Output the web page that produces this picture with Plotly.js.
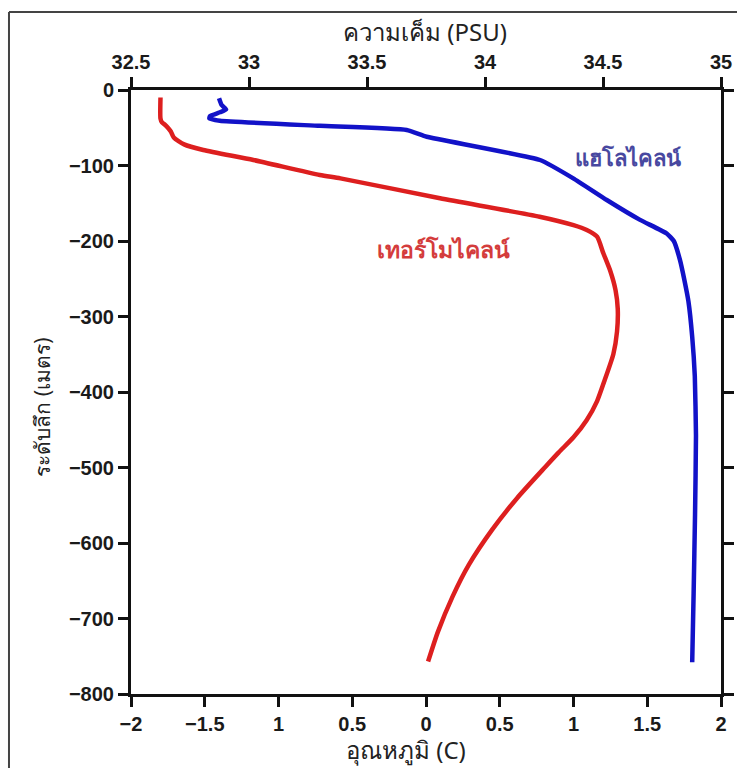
<!DOCTYPE html>
<html>
<head>
<meta charset="utf-8">
<script src="https://cdn.plot.ly/plotly-3.0.1.min.js"></script>
<style>html,body{margin:0;padding:0;background:#fff;}#chart{width:737px;height:768px;}</style>
</head>
<body>
<div id="chart"></div>
<script>
// Temperature profile (thermocline), °C vs depth (m)
const tempValues = [-1.80,-1.80,-1.79,-1.77,-1.75,-1.73,-1.71,-1.64,-1.51,-1.17,-0.72,-0.58,0.095,0.77,1.00,1.09,1.16,1.20,1.25,1.285,1.30,1.295,1.27,1.21,1.16,1.09,1.00,0.90,0.81,0.62,0.45,0.29,0.18,0.08,0.014];
const tempDepth  = [-10,-38,-43,-46,-50,-55,-63,-72,-79.5,-92.7,-112.6,-117,-143.4,-167.8,-179,-185.4,-194.3,-215,-240,-265,-290,-320,-350,-385,-412,-437,-460,-480,-499,-540,-582,-629,-671,-718,-757];
// Salinity profile (halocline), PSU vs depth (m)
const salValues = [32.873,32.884,32.903,32.877,32.835,32.832,32.877,33.30,33.668,33.753,34.233,34.374,34.516,34.657,34.77,34.80,34.826,34.845,34.862,34.878,34.889,34.894,34.890,34.884,34.878];
const salDepth  = [-11,-20,-25.6,-29.5,-34.4,-37.5,-40.7,-47.5,-53,-61.9,-92.7,-117,-145.7,-172,-190,-200,-225,-252,-280,-327,-379,-458,-562,-667,-758];

const tempTickVals = [-2,-1.5,-1,-0.5,0,0.5,1,1.5,2];
const tempTickText = ['\u22122','\u22121.5','1','0.5','0','0.5','1','1.5','2'];
const salTickVals = [32.5,33,33.5,34,34.5,35];
const salTickText = ['32.5','33','33.5','34','34.5','35'];
const depthTickVals = [0,-100,-200,-300,-400,-500,-600,-700,-800];

const tickFont = {family:'Liberation Sans, Arial, sans-serif', size:20, color:'#1a1a1a', weight:'bold'};
const titleFont = {family:'Noto Sans, DejaVu Sans, sans-serif', size:24, color:'#222'};
const yTitleFont = {family:'Noto Sans, DejaVu Sans, sans-serif', size:21, color:'#222'};

const data = [
  {x: tempValues, y: tempDepth, xaxis:'x', yaxis:'y', mode:'lines', type:'scatter',
   line:{color:'#dd1f1f', width:4.5, shape:'spline', smoothing:0.6}, hoverinfo:'skip'},
  {x: salValues, y: salDepth, xaxis:'x2', yaxis:'y', mode:'lines', type:'scatter',
   line:{color:'#1212c8', width:4.5, shape:'spline', smoothing:0.4}, hoverinfo:'skip'}
];

const axisCommon = {showline:true, linecolor:'#111', linewidth:3, ticks:'outside', ticklen:10, tickwidth:3, tickcolor:'#111', showgrid:false, zeroline:false, tickfont:tickFont, fixedrange:true};

const layout = {
  width:737, height:768,
  margin:{l:131, r:16, t:90, b:74},
  paper_bgcolor:'#fff', plot_bgcolor:'#fff',
  showlegend:false,
  xaxis: Object.assign({}, axisCommon, {range:[-2,2], tickmode:'array', tickvals:tempTickVals, ticktext:tempTickText, side:'bottom'}),
  xaxis2: Object.assign({}, axisCommon, {range:[32.5,35], tickmode:'array', tickvals:salTickVals, ticktext:salTickText, overlaying:'x', side:'top', anchor:'y'}),
  yaxis: Object.assign({}, axisCommon, {range:[-800,0], tickmode:'array', tickvals:depthTickVals, mirror:'ticks'}),
  annotations:[
    {text:'ความเค็ม (PSU)', xref:'paper', yref:'paper', x:0.498, y:1.097, showarrow:false, font:titleFont, xanchor:'center', yanchor:'middle'},
    {text:'อุณหภูมิ (C)', xref:'paper', yref:'paper', x:0.466, y:-0.092, showarrow:false, font:titleFont, xanchor:'center', yanchor:'middle'},
    {text:'ระดับลึก (เมตร)', xref:'paper', yref:'paper', x:-0.150, y:0.475, showarrow:false, textangle:-90, font:yTitleFont, xanchor:'center', yanchor:'middle'},
    {text:'แฮโลไคลน์', xref:'x', yref:'y', x:1.37, y:-89, showarrow:false, font:{family:'Noto Sans, DejaVu Sans, sans-serif', size:22, color:'#4848a0', weight:'bold'}},
    {text:'เทอร์โมไคลน์', xref:'x', yref:'y', x:0.12, y:-210, showarrow:false, font:{family:'Noto Sans, DejaVu Sans, sans-serif', size:23, color:'#d43c3c', weight:'bold'}}
  ],
  shapes:[
    {type:'line', xref:'paper', yref:'paper', x0:-0.2068, x1:-0.2068, y0:-0.13, y1:1.129, line:{color:'#444', width:2}},
    {type:'line', xref:'paper', yref:'paper', x0:-0.2068, x1:1.03, y0:1.129, y1:1.129, line:{color:'#444', width:2}}
  ]
};

Plotly.newPlot('chart', data, layout, {staticPlot:true, displayModeBar:false});
</script>
</body>
</html>
